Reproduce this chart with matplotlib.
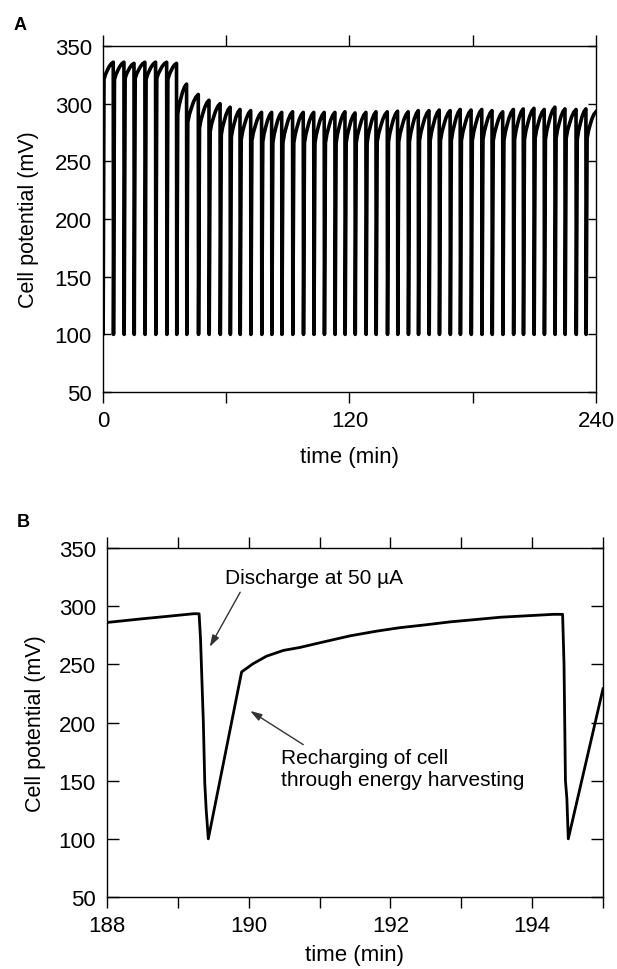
import numpy as np
import matplotlib
matplotlib.use('Agg')
import matplotlib.pyplot as plt

plt.rcParams['font.family'] = ['Liberation Sans', 'DejaVu Sans']

# ---- panel A: discharge times (min), peak before each discharge, level after fast recharge (mV)
discharge_t = [5.0, 10.2, 15.1, 20.4, 25.6, 31.0, 35.8, 40.7, 46.4, 51.6,
               57.0, 61.9, 66.7, 71.9, 77.2, 82.1, 87.0, 92.3, 97.5, 102.6,
               107.7, 112.9, 117.8, 122.7, 128.0, 132.9, 138.4, 143.4, 148.6, 153.5,
               158.7, 163.7, 169.0, 173.9, 179.2, 184.4, 189.4, 194.6, 199.8, 204.6,
               209.8, 214.8, 220.0, 224.9, 230.3, 235.1]
peak_mv = [336, 336, 335, 336, 336, 336, 335, 317, 308, 303,
           300, 297, 295, 294, 292.5, 292.5, 292.5, 293, 292.5, 292.5,
           292.5, 292.5, 293, 292, 292.5, 293, 293, 293.5, 293, 294,
           294, 294.5, 294, 295, 294.5, 295, 294, 293, 295, 295.5,
           296, 295, 297, 295.5, 295, 295.5]
kink_mv = [321, 322, 322, 321, 322, 321, 291, 284, 279, 276,
           273, 271, 269, 268, 267, 266, 266, 266, 266, 266,
           266, 266, 266, 266, 266, 267, 267, 267, 267, 268,
           268, 268, 268, 268, 268, 269, 268, 268, 269, 269,
           270, 269, 270, 270, 269, 270]
start_t = [0.0, 0.08, 0.5]
start_mv = [205, 100, 321]
end_t, end_mv = 240.0, 293
trough_mv = 100

# recovery shape between recharge kink and next peak (fraction of time, fraction of rise)
shape_t = [0.0, 0.15, 0.35, 0.55, 0.78, 1.0]
shape_v = [0.0, 0.28, 0.52, 0.74, 0.91, 1.0]

# ---- panel B: zoom on two cycles
tB = [188.0, 188.47, 188.89, 189.22, 189.30, 189.32, 189.36, 189.38, 189.40, 189.43,
      189.90, 190.06, 190.25, 190.49, 190.72, 191.00, 191.43, 191.80, 192.13, 192.50,
      192.84, 193.20, 193.55, 194.00, 194.30, 194.43, 194.45, 194.47, 194.49, 194.51,
      195.0]
vB = [286, 289, 291.5, 293.5, 293.5, 272, 200, 148, 125, 100,
      243.5, 250.5, 257, 262, 264.5, 268.5, 274.5, 278.5, 281.5, 284,
      286.5, 288.5, 290.5, 292, 293, 293, 250, 150, 135, 100,
      229]

# build panel A trace
tA = list(start_t)
vA = list(start_mv)
k_t, k_v = start_t[-1], start_mv[-1]
targets = list(zip(discharge_t, peak_mv, kink_mv)) + [(end_t, end_mv, None)]
for td, pk, kn in targets:
    for ft, fv in zip(shape_t[1:], shape_v[1:]):
        tA.append(k_t + ft * (td - k_t))
        vA.append(k_v + fv * (pk - k_v))
    if kn is None:
        break
    tA += [td + 0.12, td + 0.6]
    vA += [trough_mv, kn]
    k_t, k_v = td + 0.6, kn

fig = plt.figure(figsize=(6.17, 9.70), dpi=100)
axA = fig.add_axes([0.1669, 0.5948, 0.799, 0.3567])
axB = fig.add_axes([0.1734, 0.0742, 0.8039, 0.3598])

axA.plot(tA, vA, color='black', lw=2.6)
axB.plot(tB, vB, color='black', lw=2.0)

for ax in (axA, axB):
    for s in ax.spines.values():
        s.set_linewidth(1.0)
    ax.set_ylim(50, 350)
    ax.set_yticks([50, 100, 150, 200, 250, 300, 350])
    ax.tick_params(axis='x', which='both', direction='out', top=True, bottom=True,
                   length=8, width=1, labelsize=16, pad=5)
    ax.tick_params(axis='y', which='both', direction='in', left=True, right=True,
                   width=1, labelsize=16, pad=8)
    ax.set_ylabel('Cell potential (mV)', fontsize=15.5)
    ax.set_xlabel('time (min)', fontsize=16)

axA.tick_params(axis='y', length=6)
axB.tick_params(axis='y', length=8.5)

axA.set_xlim(0, 240)
axA.set_xticks([0, 60, 120, 180, 240])
axA.set_xticklabels(['0', '', '120', '', '240'])
axA.yaxis.set_label_coords(-0.129, 0.5)
axA.xaxis.set_label_coords(0.5, -0.156)

axB.set_xlim(188, 195)
axB.set_xticks([188, 189, 190, 191, 192, 193, 194, 195])
axB.set_xticklabels(['188', '', '190', '', '192', '', '194', ''])
axB.yaxis.set_label_coords(-0.123, 0.5)
axB.xaxis.set_label_coords(0.5, -0.135)

arrow = dict(arrowstyle='-|>,head_length=0.7,head_width=0.22', color='#333333', lw=1.0,
             shrinkA=0, shrinkB=0)
axB.annotate('', xy=(189.45, 265), xytext=(189.88, 312), arrowprops=arrow)
axB.annotate('', xy=(190.02, 210), xytext=(190.77, 181), arrowprops=arrow)
axB.text(189.67, 325, 'Discharge at 50 µA', fontsize=15, ha='left', va='center')
axB.text(190.45, 160.5, 'Recharging of cell\nthrough energy harvesting', fontsize=15,
         ha='left', va='center')

fig.text(20 / 617, 1 - 25 / 970, 'A', fontsize=13, fontweight='bold', ha='center', va='center')
fig.text(23 / 617, 1 - 523 / 970, 'B', fontsize=13, fontweight='bold', ha='center', va='center')

fig.savefig('out.png', dpi=100)
